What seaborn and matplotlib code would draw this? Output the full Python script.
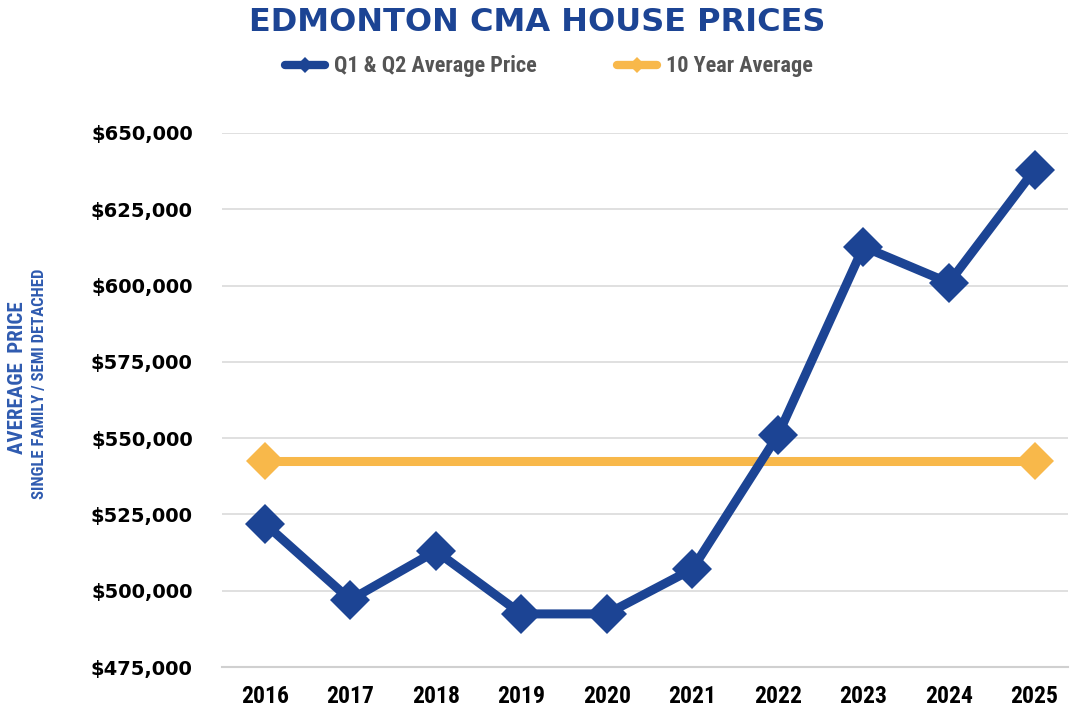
import matplotlib
matplotlib.use("Agg")
import matplotlib.pyplot as plt
import seaborn as sns
import pandas as pd
from matplotlib.ticker import FuncFormatter
from matplotlib import font_manager

years = ["2016", "2017", "2018", "2019", "2020", "2021", "2022", "2023", "2024", "2025"]
avg_price = [522000, 497000, 513000, 492400, 492400, 507100, 551000, 612700, 600900, 637900]
ten_year_avg = [542500] * 10
yticks = [475000, 500000, 525000, 550000, 575000, 600000, 625000, 650000]

BLUE = "#1C4494"
ORANGE = "#F8B84A"

sns.set_theme(style="white")
plt.rcParams['font.family'] = ['DejaVu Sans']

avail = {f.name for f in font_manager.fontManager.ttflist}
NARROW = [f for f in ["Roboto Condensed", "Liberation Sans Narrow", "Liberation Sans"] if f in avail] + ["DejaVu Sans"]

df = pd.DataFrame({"year": years, "pos": range(len(years)), "price": avg_price, "avg": ten_year_avg})

fig = plt.figure(figsize=(10.7, 7.13), dpi=100)
ax = fig.add_axes([0.2075, 0.0645, 0.7905, 0.749])

sns.lineplot(data=df, x="pos", y="avg", ax=ax, color=ORANGE, linewidth=6.5,
             marker="D", markersize=19, markeredgewidth=0, markevery=[0, len(years) - 1],
             label="10 Year Average", legend=False, zorder=3)
sns.lineplot(data=df, x="pos", y="price", ax=ax, color=BLUE, linewidth=6.5,
             marker="D", markersize=20, markeredgewidth=0,
             label="Q1 & Q2 Average Price", legend=False, zorder=4)

ax.set_xlim(-0.5, len(years) - 1 + 0.39)
ax.set_ylim(475000, 650000)
ax.set_yticks(yticks)
ax.yaxis.set_major_formatter(FuncFormatter(lambda v, p: f"${v:,.0f}"))
ax.set_xticks(range(len(years)))
ax.set_xticklabels(years)
ax.grid(axis="y", color="#DADADA", linewidth=1.2)
ax.grid(axis="x", visible=False)
for s in ["top", "right", "left"]:
    ax.spines[s].set_visible(False)
ax.spines["bottom"].set_color("#D0D0D0")
ax.spines["bottom"].set_linewidth(1.5)
ax.tick_params(axis="both", length=0)
ax.tick_params(axis="y", pad=21)
ax.tick_params(axis="x", pad=13)
for t in ax.get_yticklabels():
    t.set_fontsize(14)
    t.set_fontweight("bold")
    t.set_color("black")
for t in ax.get_xticklabels():
    t.set_fontsize(17)
    t.set_fontweight("bold")
    t.set_color("black")
    t.set_family(NARROW)
ax.set_xlabel("")
ax.set_ylabel("")

fig.text(0.016, 0.47, "AVEREAGE  PRICE", rotation=90, ha="center", va="center",
         fontsize=15, fontweight="bold", color="#2F5BB0", family=NARROW)
fig.text(0.037, 0.462, "SINGLE FAMILY / SEMI DETACHED", rotation=90, ha="center", va="center",
         fontsize=12, fontweight="bold", color="#2F5BB0", family=NARROW)

fig.text(0.502, 0.968, "EDMONTON CMA HOUSE PRICES", ha="center", va="center",
         fontsize=23, fontweight="bold", color=BLUE)

handles, labels = ax.get_legend_handles_labels()
order = [labels.index("Q1 & Q2 Average Price"), labels.index("10 Year Average")]
leg = fig.legend([handles[i] for i in order], [labels[i] for i in order],
                 loc="center", bbox_to_anchor=(0.513, 0.907), ncol=2, frameon=False,
                 columnspacing=3.6, handlelength=1.8, handletextpad=0.4,
                 prop={"family": NARROW, "weight": "bold", "size": 16})
for t in leg.get_texts():
    t.set_color("#555555")
for h in leg.legend_handles:
    h.set_markersize(8)
    h.set_linewidth(6)

fig.savefig("out.png", dpi=100, facecolor="white")
